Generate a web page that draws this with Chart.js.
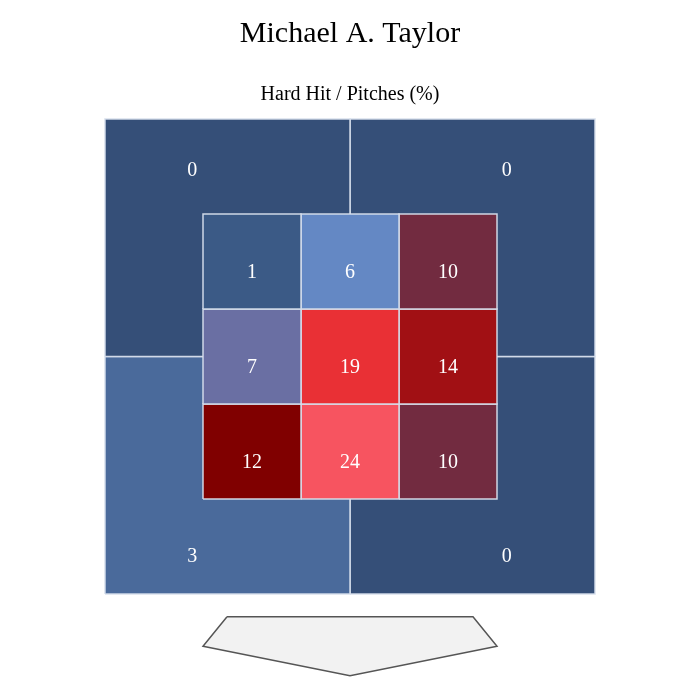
<!DOCTYPE html>
<html>
<head>
<meta charset="utf-8">
<script src="https://cdn.jsdelivr.net/npm/chart.js@4"></script>
<style>
  html, body { margin: 0; padding: 0; background: #fff; }
  #wrap { width: 700px; height: 700px; }
</style>
</head>
<body>
<div id="wrap"><canvas id="zone"></canvas></div>
<script>
// hard hit / pitches (%) by zone, rows top to bottom, cols left to right
const innerValues = [
	[1, 6, 10],
	[7, 19, 14],
	[12, 24, 10]
];
// outer quadrants: top-left, top-right, bottom-left, bottom-right
const outerValues = [0, 0, 3, 0];
const innerColors = [
	['#3b5a86', '#6488c4', '#722b40'],
	['#6a6fa3', '#e93035', '#a11014'],
	['#800000', '#f75460', '#722b40']
];
const outerColors = ['#354f78', '#354f78', '#4a6a9b', '#354f78'];

const edge = 'rgba(214,222,236,0.95)';

const rect = (x0, y0, x1, y1) => [
	{x: x0, y: y0}, {x: x1, y: y0}, {x: x1, y: y1}, {x: x0, y: y1}, {x: x0, y: y0}
];

const datasets = [];
const labels = [];

// outer quadrants (drawn first, under the 3x3 grid)
const quads = [[-2.5, 0, 0, 2.5], [0, 0, 2.5, 2.5], [-2.5, -2.5, 0, 0], [0, -2.5, 2.5, 0]];
quads.forEach((q, i) => {
	datasets.push({
		data: rect(q[0], q[1], q[2], q[3]),
		backgroundColor: outerColors[i],
		borderColor: edge,
		borderWidth: 1.5,
		order: 3
	});
	labels.push({x: i % 2 ? 1.6 : -1.61, y: i < 2 ? 1.97 : -2.09, text: String(outerValues[i])});
});

innerValues.forEach((row, r) => {
	row.forEach((v, c) => {
		const x0 = c - 1.5, y1 = 1.5 - r;
		datasets.push({
			data: rect(x0, y1 - 1, x0 + 1, y1),
			backgroundColor: innerColors[r][c],
			borderColor: edge,
			borderWidth: 1.5,
			order: 2
		});
		labels.push({x: x0 + 0.5, y: y1 - 0.6, text: String(v)});
	});
});

// home plate
datasets.push({
	data: [
		{x: -1.255, y: -2.74}, {x: 1.255, y: -2.74}, {x: 1.5, y: -3.05},
		{x: 0, y: -3.36}, {x: -1.5, y: -3.05}, {x: -1.255, y: -2.74}
	],
	backgroundColor: '#f2f2f2',
	borderColor: '#555',
	borderWidth: 1.5,
	order: 1
});

datasets.forEach(d => {
	d.showLine = true;
	d.fill = 'shape';
	d.pointRadius = 0;
	d.pointHoverRadius = 0;
	d.tension = 0;
});

const zoneLabels = {
	id: 'zoneLabels',
	afterDatasetsDraw(chart) {
		const {ctx, scales} = chart;
		ctx.save();
		ctx.fillStyle = '#fff';
		ctx.font = "20px 'Liberation Serif'";
		ctx.textAlign = 'center';
		ctx.textBaseline = 'middle';
		labels.forEach(l => {
			ctx.fillText(l.text, scales.x.getPixelForValue(l.x), scales.y.getPixelForValue(l.y) + 1.5);
		});
		ctx.restore();
	}
};

new Chart(document.getElementById('zone'), {
	type: 'scatter',
	data: {datasets},
	options: {
		responsive: true,
		maintainAspectRatio: false,
		animation: false,
		layout: {padding: 0},
		scales: {
			x: {display: false, min: -3.5714, max: 3.5714},
			y: {display: false, min: -3.616, max: 2.595}
		},
		plugins: {
			legend: {display: false},
			tooltip: {enabled: false},
			title: {
				display: true,
				text: 'Michael A. Taylor',
				color: '#000',
				font: {family: "'Liberation Serif'", size: 30, weight: 'normal', lineHeight: 1.2},
				padding: {top: 16.5, bottom: 0}
			},
			subtitle: {
				display: true,
				text: 'Hard Hit / Pitches (%)',
				color: '#000',
				font: {family: "'Liberation Serif'", size: 20, weight: 'normal', lineHeight: 1.2},
				padding: {top: 30, bottom: 3.5}
			}
		}
	},
	plugins: [zoneLabels]
});
</script>
</body>
</html>
